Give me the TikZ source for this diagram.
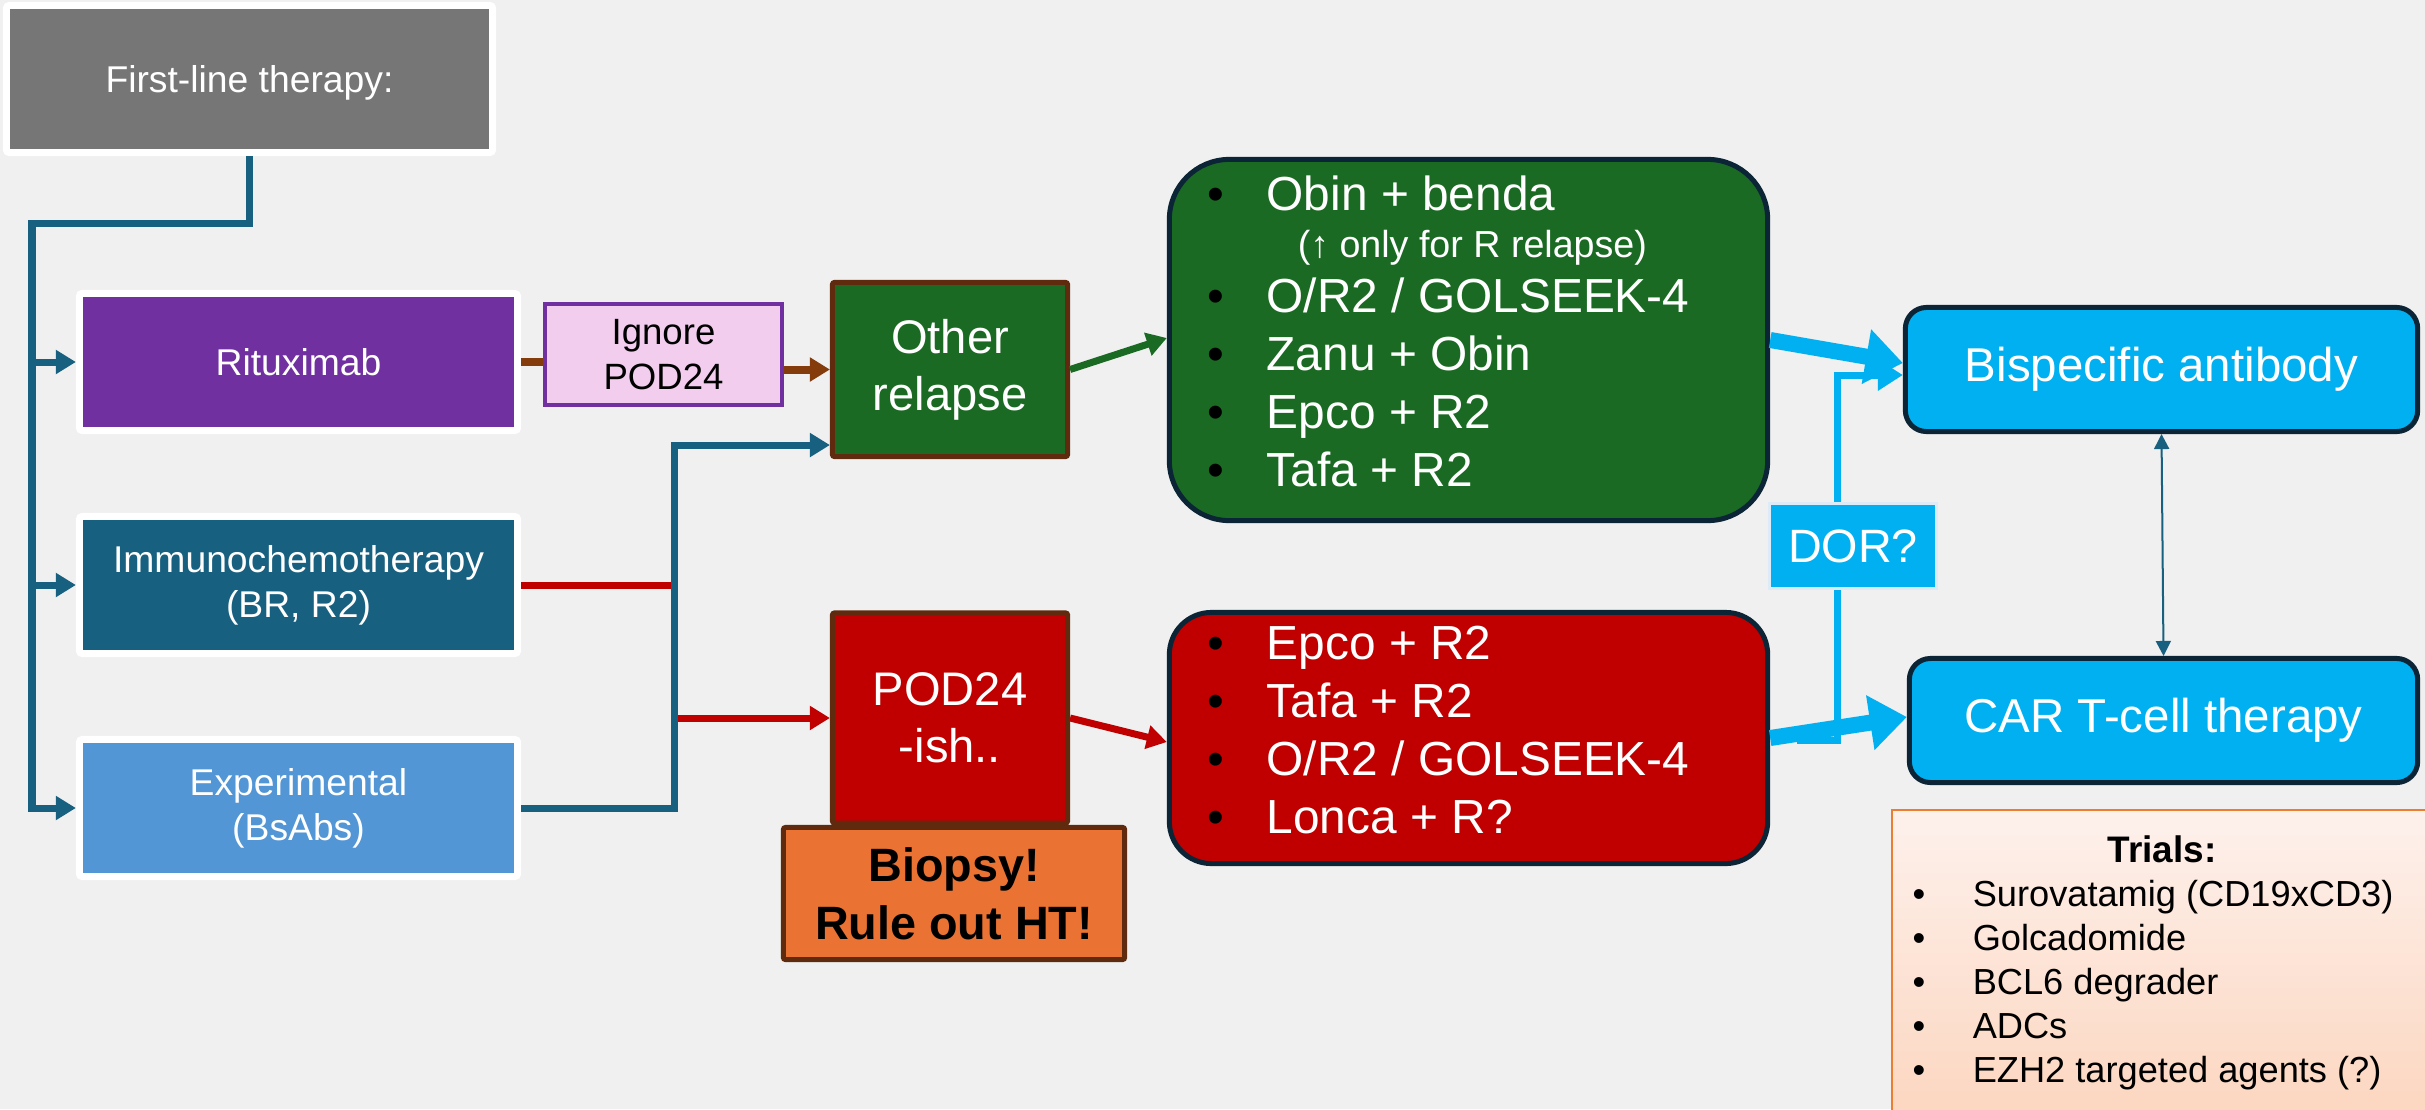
\documentclass[tikz,border=0pt]{standalone}
\usepackage{fontspec}
\setmainfont{Liberation Sans}
\usetikzlibrary{arrows.meta}

\definecolor{bgpage}{HTML}{F0F0F0}
\definecolor{firstgray}{HTML}{767676}
\definecolor{ritpurple}{HTML}{7030A0}
\definecolor{chemoblue}{HTML}{18607F}
\definecolor{expblue}{HTML}{5296D5}
\definecolor{ignorepink}{HTML}{F2CDEE}
\definecolor{arrowbrown}{HTML}{843C0C}
\definecolor{framebrown}{HTML}{5F2A0E}
\definecolor{relgreen}{HTML}{1B6A23}
\definecolor{podred}{HTML}{C00000}
\definecolor{biopsyorange}{HTML}{EA7233}
\definecolor{navyframe}{HTML}{0B2537}
\definecolor{therapycyan}{HTML}{00B0F0}
\definecolor{dorframe}{HTML}{DCEBF7}
\definecolor{trialorange}{HTML}{ED7D31}
\definecolor{trialtop}{HTML}{FDF1EC}
\definecolor{trialbottom}{HTML}{FCD5BE}

\newcommand{\itm}[2][0.59cm]{\makebox[#1][l]{\textcolor{black}{\textbullet}}#2}

\begin{document}
\begin{tikzpicture}[x=0.01cm, y=-0.01cm, >={Triangle[length=0.2cm,width=0.23cm]},
	startbox/.style={draw=white, line width=0.07cm, rounded corners=0.03cm, text=white, align=center, inner sep=0pt, minimum width=4.38cm, minimum height=1.37cm, font=\fontsize{10.6}{12.8}\selectfont},
	stagebox/.style={draw=framebrown, line width=0.05cm, rounded corners=0.02cm, align=center, inner sep=0pt, minimum width=2.35cm, text=white, font=\fontsize{13.4}{16.2}\selectfont},
	listbox/.style={draw=navyframe, line width=0.05cm, minimum width=5.98cm, inner sep=0pt},
	listtext/.style={anchor=north west, align=left, inner sep=0pt, text=white, font=\fontsize{13.6}{16.5}\selectfont},
	therapy/.style={draw=navyframe, line width=0.05cm, fill=therapycyan, text=white, rounded corners=0.21cm, minimum height=1.24cm, inner sep=0pt, font=\fontsize{13.5}{16}\selectfont},
	trunk/.style={draw=chemoblue, line width=0.07cm},
	brownline/.style={draw=arrowbrown, line width=0.08cm},
	redline/.style={draw=podred, line width=0.07cm},
	greenline/.style={draw=relgreen, line width=0.07cm},
	dorline/.style={draw=therapycyan, line width=0.07cm, -{Triangle[length=0.25cm,width=0.3cm]}},
	bigarrow/.style={draw=therapycyan, line width=0.16cm, -{Triangle[length=0.37cm,width=0.53cm]}}]
	\useasboundingbox (0,0) rectangle (2425,1109);
	\clip (0,0) rectangle (2425,1109);
	\fill[bgpage] (0,0) rectangle (2425,1109);

	\node[startbox, fill=firstgray, minimum width=4.86cm, minimum height=1.47cm, text depth=0pt] (first) at (249.5,79) {First-line therapy:};
	\node[startbox, fill=ritpurple] (ritux) at (298.5,362) {Rituximab};
	\node[startbox, fill=chemoblue] (immuno) at (298.5,585) {Immunochemotherapy\\(BR, R2)};
	\node[startbox, fill=expblue] (exper) at (298.5,808) {Experimental\\(BsAbs)};

	\node[draw=ritpurple, fill=ignorepink, line width=0.04cm, minimum width=2.37cm, minimum height=1.01cm, align=center, inner sep=0pt, font=\fontsize{10.4}{12.6}\selectfont] (ignore) at (663.5,354.5) {Ignore\\POD24};
	\node[stagebox, fill=relgreen, minimum height=1.74cm] (other) at (950,369.5) {Other\\relapse};
	\node[stagebox, fill=podred, minimum height=2.1cm] (pod) at (950,718) {POD24\\-ish..};
	\node[stagebox, fill=biopsyorange, text=black, minimum width=3.41cm, minimum height=1.32cm, font=\bfseries\fontsize{13.3}{16.5}\selectfont] (biopsy) at (954,893.5) {Biopsy!\\Rule out HT!};

	\node[listbox, fill=relgreen, rounded corners=0.6cm, minimum height=3.61cm] (greenlist) at (1468.5,340) {};
	\node[listtext] (greenitems) at (1207,175) {\itm{Obin + benda}\\[-0.11cm]
		\hspace*{0.9cm}{\fontsize{10.7}{12}\selectfont(↑ only for R relapse)}\\[-0.03cm]
		\itm{O/R2 / GOLSEEK-4}\\
		\itm{Zanu + Obin}\\
		\itm{Epco + R2}\\
		\itm{Tafa + R2}};
	\node[listbox, fill=podred, rounded corners=0.42cm, minimum height=2.51cm] (redlist) at (1468.5,738) {};
	\node[listtext] (reditems) at (1207,625) {\itm{Epco + R2}\\
		\itm{Tafa + R2}\\
		\itm{O/R2 / GOLSEEK-4}\\
		\itm{Lonca + R?}};

	\node[therapy, minimum width=5.12cm] (bisp) at (2161.5,369.5) {Bispecific antibody};
	\node[therapy, minimum width=5.08cm] (cart) at (2163.5,720.5) {CAR T-cell therapy};

	\node[draw=trialorange, line width=0.02cm, top color=trialtop, bottom color=trialbottom, minimum width=5.48cm, minimum height=3.2cm, inner sep=0pt] (trials) at (2166,970) {};
	\node[anchor=base, inner sep=0pt, font=\bfseries\fontsize{10.5}{12.5}\selectfont] (trialshead) at (2162,862) {Trials:};
	\node[anchor=north west, align=left, inner sep=0pt, font=\fontsize{10.3}{12.5}\selectfont] (trialslist) at (1912,880) {\itm[0.6cm]{Surovatamig (CD19xCD3)}\\
		\itm[0.6cm]{Golcadomide}\\
		\itm[0.6cm]{BCL6 degrader}\\
		\itm[0.6cm]{ADCs}\\
		\itm[0.6cm]{EZH2 targeted agents (?)}};

	\coordinate (split) at (32,223);
	\coordinate (junc) at (674,585);
	\draw[trunk, ->] (first.south) |- (split) |- (exper.west);
	\draw[trunk, ->] (split |- ritux.west) -- (ritux.west);
	\draw[trunk, ->] (split |- immuno.west) -- (immuno.west);

	\draw[brownline] (ritux.east) -- (ritux.east -| ignore.west);
	\draw[brownline, ->] (ignore.east |- other.west) -- (other.west);
	\draw[redline, ->] (immuno.east) -- (junc) |- (pod.west);
	\draw[trunk, ->] (exper.east) -| (junc) |- ([yshift=0.14cm]other.south west);

	\draw[greenline, ->] (other.east) -- ([yshift=0.02cm]greenlist.west);
	\draw[redline, ->] (pod.east) -- ([yshift=-0.04cm]redlist.west);

	\coordinate (dorfoot) at (1797,740);
	\coordinate (dorknee) at (1837,740);
	\draw[dorline] (dorfoot) -- (dorknee) |- ([yshift=-0.055cm]bisp.west);
	\draw[bigarrow] (greenlist.east) -- ([yshift=0.065cm]bisp.west);
	\draw[bigarrow] (redlist.east) -- ([yshift=0.035cm]cart.west);
	\node[draw=dorframe, line width=0.03cm, fill=therapycyan, text=white, minimum width=1.67cm, minimum height=0.85cm, inner sep=0pt, font=\fontsize{13.3}{16}\selectfont] (dor) at (1853,546) {DOR?};

	\draw[draw=chemoblue, line width=0.02cm, {Triangle[length=0.15cm,width=0.15cm]}-{Triangle[length=0.15cm,width=0.15cm]}] (bisp.south) -- (cart.north);
\end{tikzpicture}
\end{document}
